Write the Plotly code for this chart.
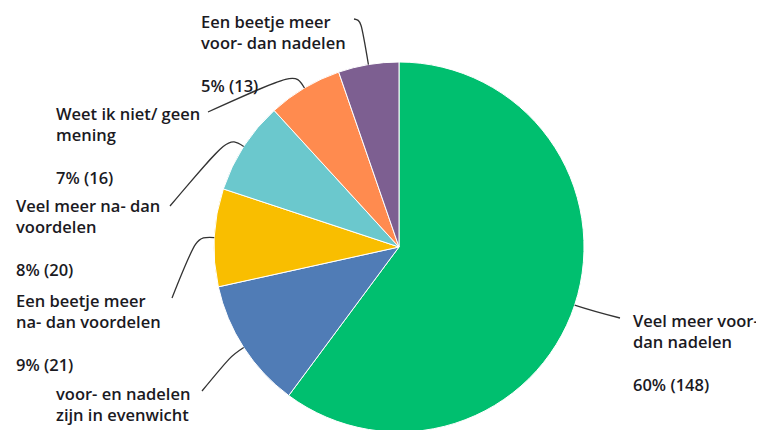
import math
import plotly.graph_objects as go

# ---- data (clockwise from 12 o'clock) ----
categories = [
    "Veel meer voor- dan nadelen",
    "voor- en nadelen zijn in evenwicht",
    "Een beetje meer na- dan voordelen",
    "Veel meer na- dan voordelen",
    "Weet ik niet/ geen mening",
    "Een beetje meer voor- dan nadelen",
]
label_lines = [
    ["Veel meer voor-", "dan nadelen"],
    ["voor- en nadelen", "zijn in evenwicht"],
    ["Een beetje meer", "na- dan voordelen"],
    ["Veel meer na- dan", "voordelen"],
    ["Weet ik niet/ geen", "mening"],
    ["Een beetje meer", "voor- dan nadelen"],
]
counts = [148, 28, 21, 20, 16, 13]
# percentage labels as printed (the one for the 2nd slice is cut off in the source)
percents = [60, None, 9, 8, 7, 5]
colors = ["#00BF6F", "#507CB6", "#F9BE00", "#6BC8CD", "#FF8B4F", "#7D5F91"]

# ---- layout constants (screen pixels) ----
W, H = 764, 430
OFF = 8  # page body margin
CX, CY, R = 399, 247, 185
# label block: left x, first-line baseline y
label_pos = [(632, 327), (55, 400), (15, 307), (15, 213), (55, 120), (200, 28)]
# leader end points and elbow length
leader_end = [(620, 318), (202, 391), (172, 298), (170, 206), (208, 112), (354, 19)]
elbow_len = [18, 15, 18, 18, 18, 45]

FONT = "Open Sans"
FS = 16.5
TXT = "#1b1a1f"


def px(x):
    return (x - OFF) / W


def py(y):
    return 1 - (y - OFF) / H


fig = go.Figure(
    go.Pie(
        labels=categories,
        values=counts,
        sort=False,
        direction="clockwise",
        rotation=0,
        marker=dict(colors=colors, line=dict(color="white", width=1)),
        textinfo="none",
        hoverinfo="label+value+percent",
        showlegend=False,
        domain=dict(x=[px(CX - R), px(CX + R)], y=[py(CY + R), py(CY - R)]),
    )
)

total = sum(counts)
cum = 0
shapes = []
annotations = []
for i, v in enumerate(counts):
    mid = (cum + v / 2) / total * 2 * math.pi
    cum += v
    ux, uy = math.sin(mid), -math.cos(mid)
    sx, sy = CX + R * ux, CY + R * uy
    ex, ey = sx + elbow_len[i] * ux, sy + elbow_len[i] * uy
    lx, ly = leader_end[i]
    path = (
        f"M {px(sx)},{py(sy)} C {px(ex)},{py(ey)} {px(ex)},{py(ey)} {px(lx)},{py(ly)}"
    )
    shapes.append(
        dict(type="path", xref="paper", yref="paper", path=path,
             line=dict(color="#333333", width=1.3))
    )
    bx, by = label_pos[i]
    text = "<br>".join(label_lines[i])
    if percents[i] is not None:
        text += f"<br><br>{percents[i]}% ({counts[i]})"
    annotations.append(
        dict(
            x=px(bx - 1), y=py(by - 20.5), xref="paper", yref="paper",
            xanchor="left", yanchor="top", align="left",
            text=text, showarrow=False,
            font=dict(family=FONT, size=FS, color=TXT, weight=600),
        )
    )

fig.update_layout(
    width=W, height=H,
    margin=dict(l=0, r=0, t=0, b=0),
    paper_bgcolor="white", plot_bgcolor="white",
    shapes=shapes, annotations=annotations,
)

fig.write_html("out.html")
